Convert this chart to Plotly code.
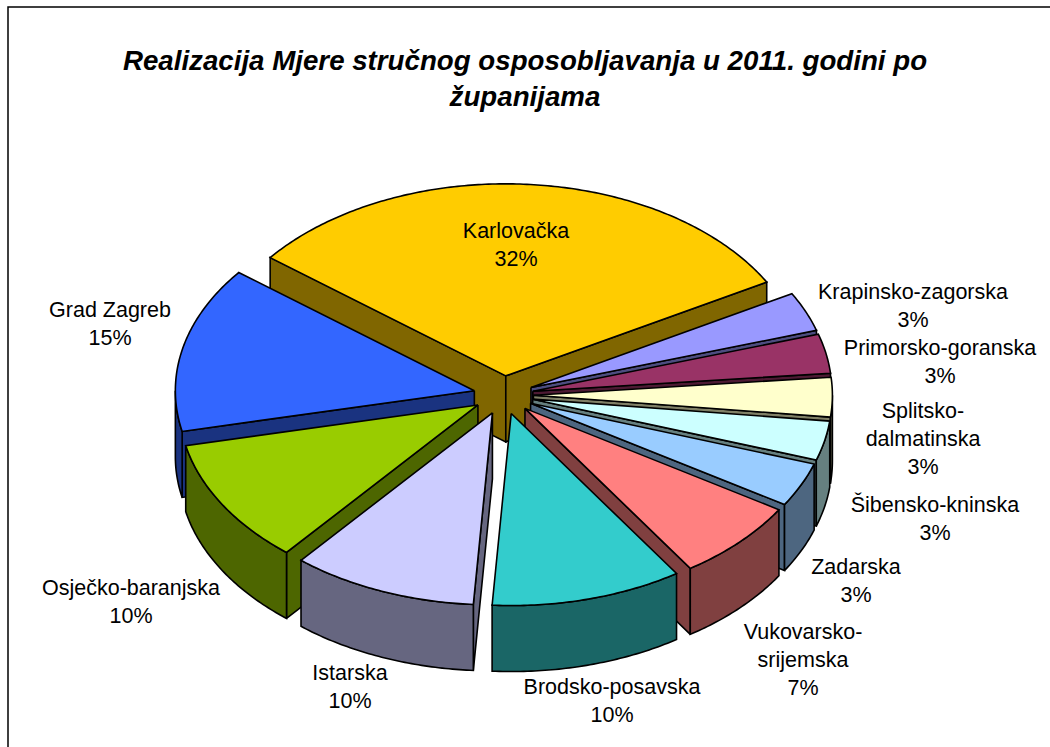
import math
import plotly.graph_objects as go

categories = ["Karlovačka", "Krapinsko-zagorska", "Primorsko-goranska", "Splitsko-dalmatinska",
              "Šibensko-kninska", "Zadarska", "Vukovarsko-srijemska", "Brodsko-posavska",
              "Istarska", "Osječko-baranjska", "Grad Zagreb"]
values = [31.2, 3.3, 3.3, 3.3, 3.3, 3.7, 6.8, 10.3, 10.0, 10.5, 13.9]
percent_labels = ["32%", "3%", "3%", "3%", "3%", "3%", "7%", "10%", "10%", "10%", "15%"]
top_colors = ["#FFCC00", "#9999FF", "#993366", "#FFFFCC", "#CCFFFF", "#99CCFF",
              "#FF8080", "#33CCCC", "#CCCCFF", "#99CC00", "#3366FF"]
wall_colors = ["#806600", "#4D4D80", "#4D1A33", "#808066", "#668080", "#4D6680",
               "#804040", "#1A6666", "#666680", "#4D6600", "#1A3380"]
label_lines = [["Karlovačka"], ["Krapinsko-zagorska"], ["Primorsko-goranska"], ["Splitsko-", "dalmatinska"],
               ["Šibensko-kninska"], ["Zadarska"], ["Vukovarsko-", "srijemska"], ["Brodsko-posavska"],
               ["Istarska"], ["Osječko-baranjska"], ["Grad Zagreb"]]
title_lines = "<b><i>Realizacija Mjere stručnog osposobljavanja u 2011. godini po<br>županijama</i></b>"

# layout of the projected pie (in page pixels)
CX, CY, A, B, DEPTH, EXPLODE, START = 503.5, 395, 299, 192, 66, 0.1, -52
label_x = [516, 913, 940, 923, 935, 856, 803, 612, 350, 131, 110]
label_y = [233, 294, 350, 413, 507, 569, 634, 689, 675, 590, 312]
LINE_PITCH = 27.7
FONT = "Liberation Sans, Arial, sans-serif"

total = sum(values)
spans, t = [], START
for v in values:
    d = v / total * 360
    spans.append((t, t + d))
    t += d


def pt(deg, radius, ox, oy, drop=0):
    r = math.radians(deg)
    return ox + A * radius * math.sin(r), oy - B * radius * math.cos(r) + drop


def arc(a0, a1, ox, oy, drop=0):
    n = max(2, int(abs(a1 - a0) * 1.5))
    return [pt(a0 + (a1 - a0) * i / n, 1, ox, oy, drop) for i in range(n + 1)]


fig = go.Figure()


def poly(points, color):
    xs = [p[0] for p in points] + [points[0][0]]
    ys = [p[1] for p in points] + [points[0][1]]
    fig.add_trace(go.Scatter(x=xs, y=ys, mode="lines", fill="toself", fillcolor=color,
                             line=dict(color="black", width=1.6, simplify=False),
                             hoverinfo="skip", showlegend=False))


order = sorted(range(len(values)), key=lambda i: math.cos(math.radians(sum(spans[i]) / 2)), reverse=True)
for i in order:
    a0, a1 = spans[i]
    mid = (a0 + a1) / 2
    ox = CX + A * EXPLODE * math.sin(math.radians(mid))
    oy = CY - B * EXPLODE * math.cos(math.radians(mid))
    # radial walls facing the viewer
    for edge, normal in ((a0, a0 - 90), (a1, a1 + 90)):
        if math.cos(math.radians(normal)) < 0:
            e = pt(edge, 1, ox, oy)
            poly([(ox, oy), e, (e[0], e[1] + DEPTH), (ox, oy + DEPTH)], wall_colors[i])
    # outer curved wall where it faces the viewer
    lo, hi = max(a0, 90), min(a1, 270)
    if lo < hi:
        poly(arc(lo, hi, ox, oy) + arc(hi, lo, ox, oy, DEPTH), wall_colors[i])
    # top
    poly([(ox, oy)] + arc(a0, a1, ox, oy), top_colors[i])

# labels
tx, ty, tt = [], [], []
for x, y, lines, pct in zip(label_x, label_y, label_lines, percent_labels):
    for k, s in enumerate(lines + [pct]):
        tx.append(x)
        ty.append(y + k * LINE_PITCH)
        tt.append(s)
fig.add_trace(go.Scatter(x=tx, y=ty, mode="text", text=tt, textposition="middle center",
                         textfont=dict(family=FONT, size=21.5, color="black"),
                         hoverinfo="skip", showlegend=False))

fig.update_layout(
    width=1050, height=747, margin=dict(l=0, r=0, t=0, b=0),
    paper_bgcolor="white", plot_bgcolor="white",
    xaxis=dict(range=[0, 1050], visible=False, fixedrange=True),
    yaxis=dict(range=[747, 0], visible=False, fixedrange=True),
    title=dict(text=title_lines, x=0.5, xanchor="center", y=0.906, yanchor="middle",
               font=dict(family=FONT, size=27.7, color="black")),
    shapes=[dict(type="rect", xref="x", yref="y", x0=8, y0=7, x1=1200, y1=1000,
                 line=dict(color="black", width=1.5), layer="below")],
)
fig.write_html("out.html", post_script="document.body.style.margin='0';", config={"displayModeBar": False})
